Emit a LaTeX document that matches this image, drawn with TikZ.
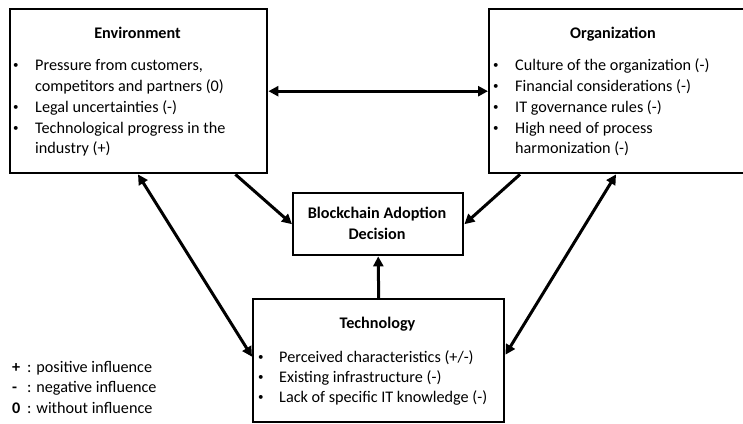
\documentclass[tikz,border=0pt]{standalone}
\usepackage{fontspec}
\setmainfont{Carlito}
\usetikzlibrary{arrows.meta}
\newcommand{\bul}[1]{\makebox[#1][l]{\hspace*{1pt}\raisebox{1.8pt}{\fontsize{11}{11}\selectfont\textbullet}}}
\begin{document}
\begin{tikzpicture}[x=1pt,y=-1pt,
  box/.style={draw,line width=2.4pt,inner sep=0pt,anchor=north west},
  txt/.style={anchor=base west,inner sep=0pt,font=\fontsize{16.2}{21}\selectfont},
  ttl/.style={anchor=base,inner sep=0pt,font=\fontsize{16.2}{21}\selectfont\bfseries},
  tip/.tip={Triangle[length=10pt,width=10pt]},
  conn/.style={line width=3pt,-tip},
  biconn/.style={line width=3pt,tip-tip}]
\useasboundingbox (0,0) rectangle (743,423);
% boxes
\node[box,minimum width=257pt,minimum height=164pt] (env) at (9,8) {};
\node[box,minimum width=257pt,minimum height=164pt] (org) at (488,8) {};
\node[box,minimum width=170pt,minimum height=62pt] (bc) at (292,192) {};
\node[box,minimum width=251pt,minimum height=123pt] (tech) at (252,298) {};
% Environment text
\node[ttl] (envt) at (137.5,38) {Environment};
\node[txt] (e1) at (12,70) {\bul{23pt}Pressure from customers,};
\node[txt] (e2) at (12,91) {\hspace*{23pt}competitors and partners (0)};
\node[txt] (e3) at (12,112) {\bul{23pt}Legal uncertainties (-)};
\node[txt] (e4) at (12,133) {\bul{23pt}Technological progress in the};
\node[txt] (e5) at (12,153) {\hspace*{23pt}industry (+)};
% Organization text
\node[ttl] (orgt) at (613,38) {Organization};
\node[txt] (o1) at (492,70) {\bul{23pt}Culture of the organization (-)};
\node[txt] (o2) at (492,91) {\bul{23pt}Financial considerations (-)};
\node[txt] (o3) at (492,112) {\bul{23pt}IT governance rules (-)};
\node[txt] (o4) at (492,133) {\bul{23pt}High need of process};
\node[txt] (o5) at (492,153) {\hspace*{23pt}harmonization (-)};
% Blockchain text
\node[ttl] (bct1) at (377,218) {Blockchain Adoption};
\node[ttl] (bct2) at (377,239) {Decision};
% Technology text
\node[ttl] (techt) at (377.5,328) {Technology};
\node[txt] (t1) at (257,362) {\bul{22pt}Perceived characteristics (+/-)};
\node[txt] (t2) at (257,382) {\bul{22pt}Existing infrastructure (-)};
\node[txt] (t3) at (257,402) {\bul{22pt}Lack of specific IT knowledge (-)};
% Legend
\node[txt] (l1) at (12,372) {\makebox[15pt][l]{\textbf{+}}: positive influence};
\node[txt] (l2) at (12,392) {\makebox[15pt][l]{\textbf{-}}: negative influence};
\node[txt] (l3) at (12,413) {\makebox[15pt][l]{\textbf{0}}: without influence};
% connectors
\draw[biconn] (env.east) -- (org.west);
\draw[conn] ([xshift=-33pt]env.south east) -- (bc.west);
\draw[conn] ([xshift=32pt]org.south west) -- (bc.east);
\draw[conn] (tech.north) -- (bc.south);
\draw[biconn] ([xshift=129pt]env.south west) -- ([yshift=4pt]tech.west);
\draw[biconn] ([xshift=128pt]org.south west) -- ([yshift=6pt]tech.east);
\end{tikzpicture}
\end{document}
